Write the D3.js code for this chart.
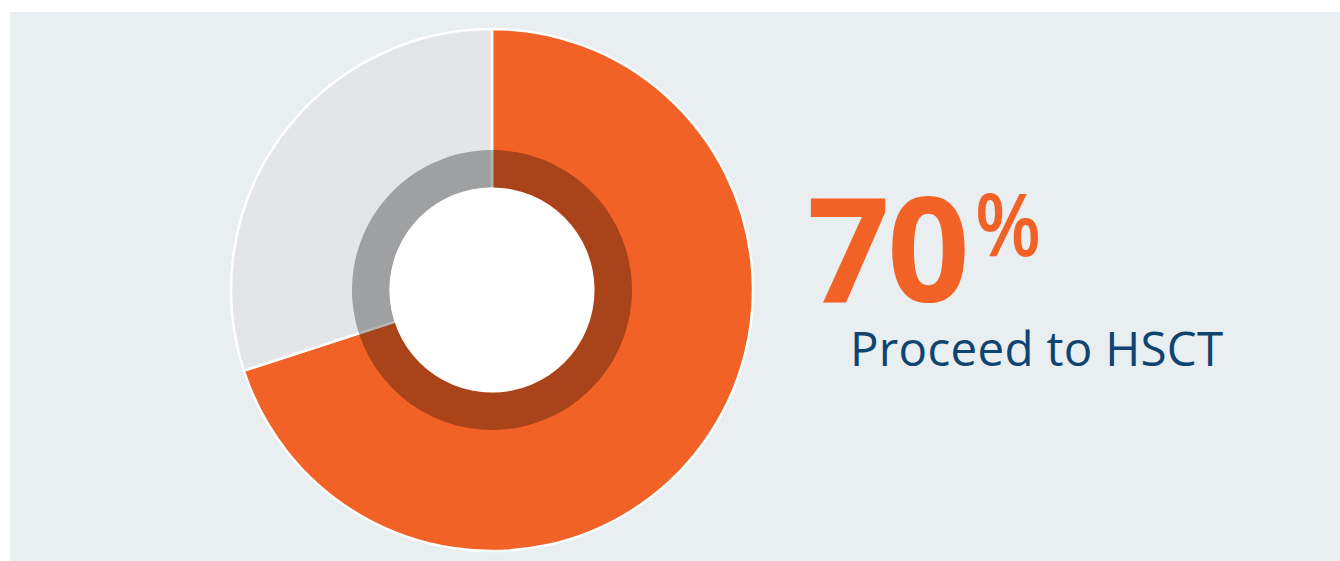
<!DOCTYPE html>
<html>
<head>
<meta charset="utf-8">
<script src="https://cdn.jsdelivr.net/npm/d3@7"></script>
<style>
  html, body { margin: 0; padding: 0; background: #ffffff; }
  svg { display: block; }
</style>
</head>
<body>
<svg id="chart" width="1340" height="561"></svg>
<script>
const categories = ["Proceed to HSCT", "Do not proceed"];
const values = [70, 30];
const colors = ["#F26125", "#E4E5E7"];
const headline = "70";
const headlineUnit = "%";
const caption = "Proceed to HSCT";

const svg = d3.select("#chart");
const W = 1340, H = 561;

svg.append("rect")
  .attr("x", 10).attr("y", 12)
  .attr("width", W - 10).attr("height", H - 12)
  .attr("fill", "#E9EEF1");

const cx = 492, cy = 290;
const rOuter = 261, rBand = 140, rInner = 102.5;

const pie = d3.pie().sort(null).value(d => d)
  .startAngle(0).endAngle(2 * Math.PI);
const arcs = pie(values);

const g = svg.append("g").attr("transform", `translate(${cx},${cy})`);

const arcOuter = d3.arc().innerRadius(0).outerRadius(rOuter);
g.selectAll("path.slice")
  .data(arcs)
  .join("path")
  .attr("class", "slice")
  .attr("d", arcOuter)
  .attr("fill", (d, i) => colors[i])
  .attr("stroke", "#ffffff")
  .attr("stroke-width", 2.5)
  .attr("stroke-linejoin", "round");

const arcBand = d3.arc().innerRadius(rInner).outerRadius(rBand);
g.selectAll("path.band")
  .data(arcs)
  .join("path")
  .attr("class", "band")
  .attr("d", arcBand)
  .attr("fill", "#000000")
  .attr("fill-opacity", 0.3);

g.append("circle")
  .attr("r", rInner)
  .attr("fill", "#ffffff");

svg.append("text")
  .attr("x", 807)
  .attr("y", 302)
  .attr("font-family", "'Open Sans', sans-serif")
  .attr("font-weight", 700)
  .attr("font-size", 145)
  .attr("letter-spacing", -3)
  .attr("fill", "#F26125")
  .text(headline);

svg.append("text")
  .attr("x", 975)
  .attr("y", 256)
  .attr("font-family", "'Open Sans', sans-serif")
  .attr("font-weight", 600)
  .attr("font-size", 86)
  .attr("textLength", 66)
  .attr("lengthAdjust", "spacingAndGlyphs")
  .attr("fill", "#F26125")
  .text(headlineUnit);

svg.append("text")
  .attr("x", 850)
  .attr("y", 366)
  .attr("font-family", "'Open Sans', sans-serif")
  .attr("font-weight", 400)
  .attr("font-size", 47.5)
  .attr("letter-spacing", 0.3)
  .attr("fill", "#0F4470")
  .text(caption);
</script>
</body>
</html>
